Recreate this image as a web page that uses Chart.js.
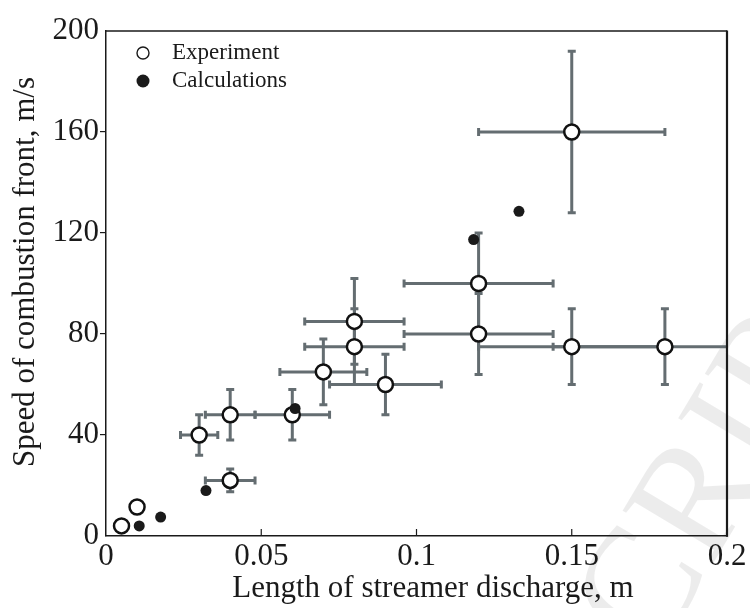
<!DOCTYPE html>
<html><head><meta charset="utf-8">
<script src="https://cdn.jsdelivr.net/npm/chart.js@4.4.1/dist/chart.umd.min.js"></script>
<style>html,body{margin:0;padding:0;background:#fff}#wrap{width:750px;height:608px}</style>
</head><body><div id="wrap"><canvas id="c" width="750" height="608"></canvas></div>
<script>
// ---- data ----
const expX    = [0.005, 0.01, 0.03, 0.04, 0.04, 0.06, 0.07, 0.08, 0.08, 0.09, 0.12, 0.12, 0.15, 0.15, 0.18];
const expY    = [4, 11.5, 40, 48, 22, 48, 65, 85, 75, 60, 100, 80, 160, 75, 75];
const expXErr = [0, 0, 0.006, 0.008, 0.008, 0.012, 0.014, 0.016, 0.016, 0.018, 0.024, 0.024, 0.03, 0.03, 0.036];
const expYErr = [0, 0, 8, 10, 4.5, 10, 13, 17, 15, 12, 20, 16, 32, 15, 15];
const calcX   = [0.0107, 0.0176, 0.0322, 0.0609, 0.1184, 0.133];
const calcY   = [4, 7.5, 18, 50.5, 117.4, 128.6];
const xTicks  = [0, 0.05, 0.1, 0.15, 0.2];
const yTicks  = [0, 40, 80, 120, 160, 200];
const xInnerTicks = [0.05, 0.1, 0.15];
const seriesNames = ['Experiment', 'Calculations'];
const xTitle = 'Length of streamer discharge, m';
const yTitle = 'Speed of combustion front, m/s';

const FONT = "'Liberation Serif', 'Times New Roman', serif";
const INK = '#1a1a1a';
const ERR = '#646d71';

const expData = expX.map((x, i) => ({x: x, y: expY[i]}));
const calcData = calcX.map((x, i) => ({x: x, y: calcY[i]}));

const watermark = {
  id: 'watermark',
  beforeDraw(chart) {
    const c = chart.ctx;
    c.save();
    c.fillStyle = 'rgba(0,0,0,0.075)';
    c.font = '160px ' + FONT;
    c.translate(655, 660);
    c.rotate(-59 * Math.PI / 180);
    c.textBaseline = 'alphabetic';
    c.fillText('CRIPT', 0, 0);
    c.restore();
  }
};

const errorBars = {
  id: 'errorBars',
  beforeDatasetsDraw(chart) {
    const c = chart.ctx, xs = chart.scales.x, ys = chart.scales.y, a = chart.chartArea;
    c.save();
    c.beginPath();
    c.rect(a.left, a.top, a.right - a.left, a.bottom - a.top);
    c.clip();
    c.strokeStyle = ERR;
    c.lineWidth = 3;
    c.lineCap = 'butt';
    const cap = 4;
    expX.forEach((xv, i) => {
      const px = xs.getPixelForValue(xv), py = ys.getPixelForValue(expY[i]);
      if (expXErr[i] > 0) {
        const x1 = xs.getPixelForValue(xv - expXErr[i]), x2 = xs.getPixelForValue(xv + expXErr[i]);
        c.beginPath(); c.moveTo(x1, py); c.lineTo(x2, py);
        c.moveTo(x1, py - cap); c.lineTo(x1, py + cap);
        c.moveTo(x2, py - cap); c.lineTo(x2, py + cap);
        c.stroke();
      }
      if (expYErr[i] > 0) {
        const y1 = ys.getPixelForValue(expY[i] - expYErr[i]), y2 = ys.getPixelForValue(expY[i] + expYErr[i]);
        c.beginPath(); c.moveTo(px, y1); c.lineTo(px, y2);
        c.moveTo(px - cap, y1); c.lineTo(px + cap, y1);
        c.moveTo(px - cap, y2); c.lineTo(px + cap, y2);
        c.stroke();
      }
    });
    c.restore();
  }
};

const frame = {
  id: 'frame',
  afterDraw(chart) {
    const c = chart.ctx, a = chart.chartArea, xs = chart.scales.x;
    c.save();
    c.strokeStyle = INK;
    c.lineWidth = 1.3;
    c.beginPath(); c.moveTo(a.left, a.top); c.lineTo(a.right, a.top); c.stroke();
    c.lineWidth = 2.2;
    c.beginPath(); c.moveTo(a.right, a.top - 0.6); c.lineTo(a.right, a.bottom + 0.8); c.stroke();
    c.lineWidth = 1.2;
    xInnerTicks.forEach(v => {
      const px = xs.getPixelForValue(v);
      c.beginPath(); c.moveTo(px, a.bottom); c.lineTo(px, a.bottom - 7); c.stroke();
    });
    // axis titles
    c.fillStyle = INK;
    c.font = '31px ' + FONT;
    c.textAlign = 'center';
    c.textBaseline = 'alphabetic';
    c.fillText(xTitle, 433, 597);
    c.save();
    c.translate(34, 272);
    c.rotate(-Math.PI / 2);
    c.fillText(yTitle, 0, 0);
    c.restore();
    // legend
    const lx = a.left + 37, ly1 = a.top + 22, ly2 = a.top + 50;
    c.beginPath(); c.arc(lx, ly1, 6, 0, Math.PI * 2);
    c.fillStyle = '#fff'; c.fill(); c.lineWidth = 1.4; c.strokeStyle = INK; c.stroke();
    c.beginPath(); c.arc(lx, ly2, 6.5, 0, Math.PI * 2);
    c.fillStyle = INK; c.fill();
    c.font = '23px ' + FONT;
    c.fillStyle = INK;
    c.textBaseline = 'middle';
    c.textAlign = 'left';
    c.fillText(seriesNames[0], lx + 29, ly1);
    c.fillText(seriesNames[1], lx + 29, ly2);
    c.restore();
  }
};

new Chart(document.getElementById('c'), {
  type: 'scatter',
  data: {
    datasets: [
      { label: seriesNames[1], data: calcData, order: 0,
        pointRadius: 5.5, pointHoverRadius: 5.5, pointBackgroundColor: INK, pointBorderWidth: 0, borderWidth: 0 },
      { label: seriesNames[0], data: expData, order: 1,
        pointRadius: 7.5, pointHoverRadius: 7.5, pointBackgroundColor: '#fff', pointBorderColor: '#111', pointBorderWidth: 2.5 }
    ]
  },
  options: {
    responsive: false,
    animation: false,
    devicePixelRatio: 1,
    layout: { padding: { top: 31, right: 23, left: 0, bottom: 0 } },
    plugins: { legend: { display: false }, tooltip: { enabled: false } },
    scales: {
      x: {
        type: 'linear', min: 0, max: 0.2,
        afterBuildTicks: s => { s.ticks = xTicks.map(v => ({value: v})); },
        afterFit: s => { s.height = 72; },
        ticks: { font: { family: FONT, size: 31 }, color: INK, padding: 2, maxRotation: 0,
                 callback: v => String(v) },
        grid: { display: true, drawOnChartArea: false, drawTicks: false },
        border: { display: true, color: INK, width: 1.5 },
        title: { display: false }
      },
      y: {
        type: 'linear', min: 0, max: 200,
        afterBuildTicks: s => { s.ticks = yTicks.map(v => ({value: v})); },
        afterFit: s => { s.width = 106; },
        ticks: { font: { family: FONT, size: 31 }, color: INK, padding: 1, callback: v => String(v) },
        grid: { display: true, drawOnChartArea: false, drawTicks: true, tickLength: 6, lineWidth: 1.2,
                tickColor: ctx => (ctx.tick && (ctx.tick.value === 0 || ctx.tick.value === 200)) ? 'rgba(0,0,0,0)' : INK },
        border: { display: true, color: INK, width: 1.5 },
        title: { display: false }
      }
    }
  },
  plugins: [watermark, errorBars, frame]
});
</script></body></html>
